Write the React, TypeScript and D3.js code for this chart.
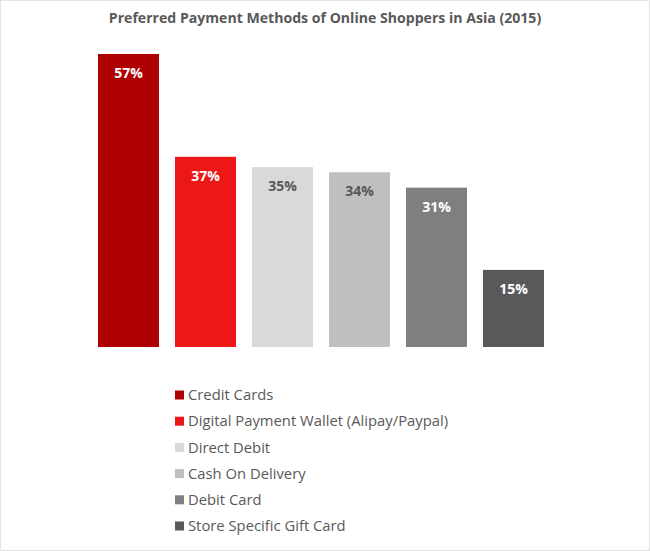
import React from 'react'
import * as d3 from 'd3'

const methods = [
  'Credit Cards',
  'Digital Payment Wallet (Alipay/Paypal)',
  'Direct Debit',
  'Cash On Delivery',
  'Debit Card',
  'Store Specific Gift Card'
]
const shares = [57, 37, 35, 34, 31, 15]
const barColors = ['#ae0000', '#ec1818', '#d9d9d9', '#bfbfbf', '#7f7f7f', '#595959']
const labelColors = ['#ffffff', '#ffffff', '#595959', '#595959', '#ffffff', '#ffffff']

const W = 650
const H = 551
const baseline = 347
const font = "'Open Sans', sans-serif"

const App = () => {
  const x = d3.scaleBand<string>()
    .domain(methods)
    .range([90, 552])
    .paddingInner(0.208)
    .paddingOuter(0.104)

  // 57% reaches y=54
  const y = d3.scaleLinear().domain([0, 57]).range([baseline, 54])

  const legendY = d3.scalePoint<string>()
    .domain(methods)
    .range([395, 526])

  return (
    <svg
      width={W}
      height={H}
      style={{ position: 'absolute', left: 0, top: 0, background: '#fff' }}
    >
      <rect x={0.5} y={0.5} width={W - 1} height={H - 1} fill='#fff' stroke='#e3e3e3' />
      <text
        x={325}
        y={23}
        textAnchor='middle'
        fontFamily={font}
        fontWeight='bold'
        fontSize={14.1}
        fill='#595959'
      >
        Preferred Payment Methods of Online Shoppers in Asia (2015)
      </text>

      {methods.map((m, i) => (
        <g key={m}>
          <rect
            x={x(m)}
            y={y(shares[i])}
            width={x.bandwidth()}
            height={baseline - y(shares[i])}
            fill={barColors[i]}
          />
          <text
            x={(x(m) ?? 0) + x.bandwidth() / 2}
            y={y(shares[i]) + 24}
            textAnchor='middle'
            fontFamily={font}
            fontWeight='bold'
            fontSize={14}
            fill={labelColors[i]}
          >
            {shares[i]}%
          </text>
        </g>
      ))}

      {methods.map((m, i) => (
        <g key={`legend-${m}`} transform={`translate(175, ${legendY(m)})`}>
          <rect x={0} y={-4.5} width={9} height={9} fill={barColors[i]} />
          <text
            x={13}
            y={0}
            dy='0.35em'
            fontFamily={font}
            fontSize={14.8}
            fill='#595959'
          >
            {m}
          </text>
        </g>
      ))}
    </svg>
  )
}

export default App
